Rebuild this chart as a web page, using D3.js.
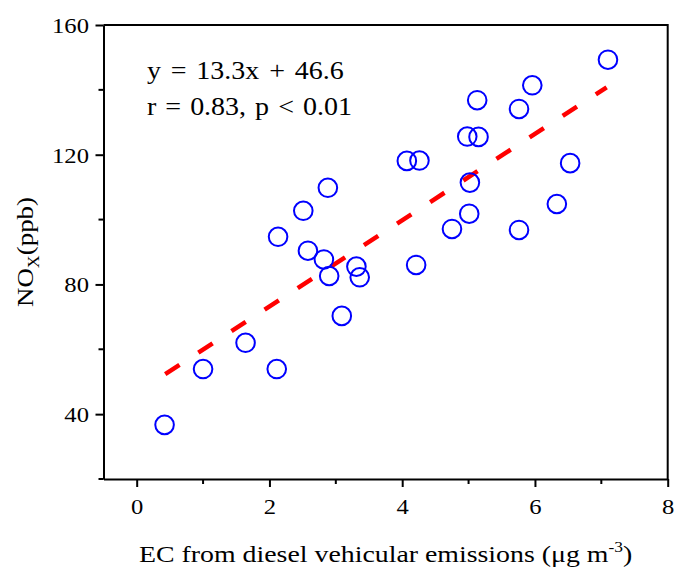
<!DOCTYPE html>
<html lang="en">
  <head>
    <meta charset="UTF-8" />
    <title>EC vs NOx</title>
    <style>
      body { margin: 0; background: #fff; }
      text { font-family: "Liberation Serif", "Times New Roman", serif; fill: #000; }
    </style>
  </head>

  <body>
    <script src="https://cdn.jsdelivr.net/npm/d3@7/dist/d3.min.js"></script>
    <script>
      // EC from diesel vehicular emissions (ug m-3) vs NOx (ppb)
      var ecValues  = [0.42, 1.00, 1.64, 2.11, 2.13, 2.51, 2.58, 2.82, 2.88, 2.90,
                       3.09, 3.31, 3.36, 4.07, 4.21, 4.26, 4.75, 4.98, 5.01, 5.02,
                       5.13, 5.15, 5.76, 5.76, 5.96, 6.33, 6.53, 7.10];
      var noxValues = [36.7, 53.9, 62.0, 53.9, 94.7, 102.7, 90.4, 87.7, 109.8, 82.6,
                       70.3, 85.5, 82.2, 118.1, 86.0, 118.2, 97.1, 125.6, 101.8, 111.4,
                       136.8, 125.5, 134.1, 96.8, 141.4, 104.8, 117.4, 149.3];
      var fitSlope = 13.3, fitIntercept = 46.6;
      var fitRange = [0.43, 7.08];
      var xTicks = [0, 2, 4, 6, 8];
      var xMinor = [1, 3, 5, 7];
      var yTicks = [40, 80, 120, 160];
      var yMinor = [20, 60, 100, 140];

      var w = 676, h = 569;
      var pLeft = 103.5, pRight = 667.7, pTop = 25, pBottom = 479;
      var stretch = 1.12; // text in the original is a bit wide

      var svg = d3.select("body").append("svg")
                  .attr("width", w).attr("height", h);

      var xScale = d3.scaleLinear().domain([-0.5, 8]).range([pLeft, pRight]);
      var yScale = d3.scaleLinear().domain([20, 160]).range([pBottom, pTop]);

      // frame (top + right)
      svg.append("path")
         .attr("d", "M" + pLeft + "," + pTop + "H" + pRight + "V" + pBottom)
         .attr("fill", "none").attr("stroke", "#000").attr("stroke-width", 2);

      var xAxis = d3.axisBottom(xScale).tickValues(xTicks).tickSize(8).tickPadding(6)
                    .tickSizeOuter(0).tickFormat(d3.format("d"));
      var gx = svg.append("g").attr("transform", "translate(0," + pBottom + ")").call(xAxis);
      gx.append("g").selectAll("line").data(xMinor).enter().append("line")
        .attr("x1", xScale).attr("x2", xScale).attr("y1", 0).attr("y2", 5)
        .attr("stroke", "#000").attr("stroke-width", 2);

      var yAxis = d3.axisLeft(yScale).tickValues(yTicks).tickSize(8).tickPadding(5)
                    .tickSizeOuter(0).tickFormat(d3.format("d"));
      var gy = svg.append("g").attr("transform", "translate(" + pLeft + ",0)").call(yAxis);
      gy.append("g").selectAll("line").data(yMinor).enter().append("line")
        .attr("y1", yScale).attr("y2", yScale).attr("x1", 0).attr("x2", -5)
        .attr("stroke", "#000").attr("stroke-width", 2);

      [gx, gy].forEach(function(g) {
        g.select(".domain").attr("stroke-width", 2);
        g.selectAll(".tick line").attr("stroke-width", 2);
        g.selectAll(".tick text").attr("font-size", 22)
         .attr("font-family", "'Liberation Serif', serif").attr("fill", "#000")
         .attr("transform", "scale(" + stretch + ",1)");
      });
      gx.selectAll(".tick text").attr("dy", "0.95em");
      gy.selectAll(".tick text").attr("dy", "0.34em");

      // regression line
      svg.append("line")
         .attr("x1", xScale(fitRange[0])).attr("y1", yScale(fitSlope * fitRange[0] + fitIntercept))
         .attr("x2", xScale(fitRange[1])).attr("y2", yScale(fitSlope * fitRange[1] + fitIntercept))
         .attr("stroke", "#ff0000").attr("stroke-width", 4.5)
         .attr("stroke-dasharray", "17,22.5");

      // points
      svg.append("g").selectAll("circle")
         .data(ecValues).enter().append("circle")
         .attr("cx", function(d) { return xScale(d); })
         .attr("cy", function(d, i) { return yScale(noxValues[i]); })
         .attr("r", 9.3)
         .attr("fill", "none").attr("stroke", "#0000ff").attr("stroke-width", 2);

      // annotation
      var note = svg.append("g").attr("transform", "translate(147,0)scale(" + stretch + ",1)");
      note.append("text").attr("y", 79).attr("font-size", 25)
          .attr("word-spacing", 2.5).text("y = 13.3x + 46.6");
      note.append("text").attr("y", 115).attr("font-size", 25)
          .attr("word-spacing", 1.8).text("r = 0.83, p < 0.01");

      // axis titles
      var xt = svg.append("text").attr("font-size", 24).attr("text-anchor", "middle")
                  .attr("transform", "translate(" + (pLeft + pRight) / 2 + ",562)scale(1.16,1)");
      xt.append("tspan").text("EC from diesel vehicular emissions (\u03bcg m");
      xt.append("tspan").attr("dy", -10).attr("font-size", 15).text("-3");
      xt.append("tspan").attr("dy", 10).text(")");

      var yt = svg.append("text").attr("text-anchor", "middle").attr("font-size", 24)
                  .attr("transform", "translate(33," + (pTop + pBottom) / 2 + ")rotate(-90)scale(1.12,1)");
      yt.append("tspan").text("NO");
      yt.append("tspan").attr("dy", 6).attr("font-size", 16).text("X");
      yt.append("tspan").attr("dy", -6).text("(ppb)");
    </script>
  </body>
</html>
